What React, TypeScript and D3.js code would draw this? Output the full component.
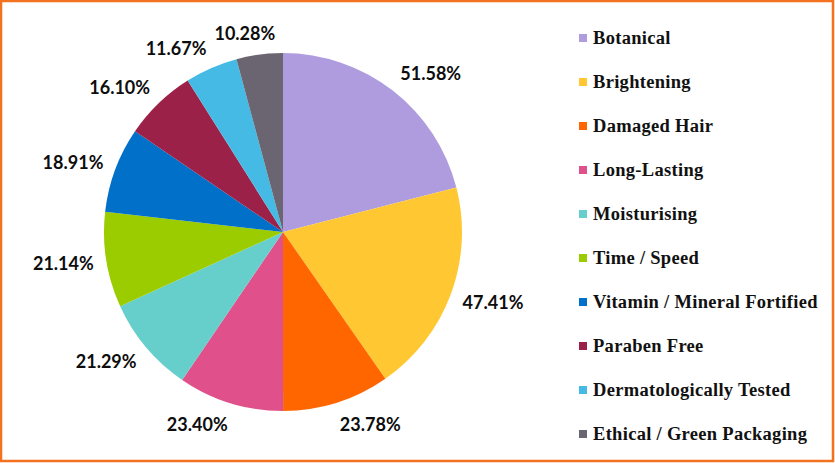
import React from "react";
import * as d3 from "d3";

const categories = [
  "Botanical",
  "Brightening",
  "Damaged Hair",
  "Long-Lasting",
  "Moisturising",
  "Time / Speed",
  "Vitamin / Mineral Fortified",
  "Paraben Free",
  "Dermatologically Tested",
  "Ethical / Green Packaging",
];
const values = [51.58, 47.41, 23.78, 23.4, 21.29, 21.14, 18.91, 16.1, 11.67, 10.28];
const colors = [
  "#AE9CDF",
  "#FFC832",
  "#FF6600",
  "#E0508A",
  "#66CFCC",
  "#9ACC00",
  "#0070C8",
  "#9B2148",
  "#45BAE4",
  "#6A6570",
];

const W = 835;
const H = 463;
const cx = 283;
const cy = 232;
const R = 179;

export default function App() {
  const pie = d3.pie<number>().sort(null).value((d) => d);
  const arcs = pie(values);
  const arcGen = d3.arc<d3.PieArcDatum<number>>().innerRadius(0).outerRadius(R);
  const labelW = 60;
  const labelH = 18;
  const gap = 13;

  return (
    <svg
      width={W}
      height={H}
      style={{ position: "absolute", left: 0, top: 0, background: "#fff" }}
    >
      <rect x={1} y={1} width={W - 3} height={H - 3} fill="#fff" stroke="#F4711F" strokeWidth={2.5} />
      <g transform={`translate(${cx},${cy})`}>
        {arcs.map((a, i) => (
          <path key={i} d={arcGen(a) || ""} fill={colors[i]} />
        ))}
        {arcs.map((a, i) => {
          const th = (a.startAngle + a.endAngle) / 2;
          const s = Math.sin(th);
          const c = Math.cos(th);
          const px = (R + gap) * s;
          const py = -(R + gap) * c;
          const dx = (labelW / 2) * Math.max(-1, Math.min(1, 3.3 * s));
          const dy = -(labelH / 2) * c;
          return (
            <text
              key={i}
              x={px + dx}
              y={py + dy}
              textAnchor="middle"
              dominantBaseline="central"
              fontFamily="Lato, 'Open Sans', sans-serif"
              fontWeight="bold"
              fontSize={18}
              fill="#0d0d0d"
            >
              {values[i].toFixed(2)}%
            </text>
          );
        })}
      </g>
      <g>
        {categories.map((name, i) => {
          const y = 38 + i * 44;
          return (
            <g key={i}>
              <rect x={579} y={y - 4} width={8} height={8} fill={colors[i]} />
              <text
                x={593}
                y={y}
                dominantBaseline="central"
                fontFamily="'Liberation Serif', serif"
                fontWeight="bold"
                fontSize={18.5}
                letterSpacing={0.3}
                fill="#111"
              >
                {name}
              </text>
            </g>
          );
        })}
      </g>
    </svg>
  );
}
